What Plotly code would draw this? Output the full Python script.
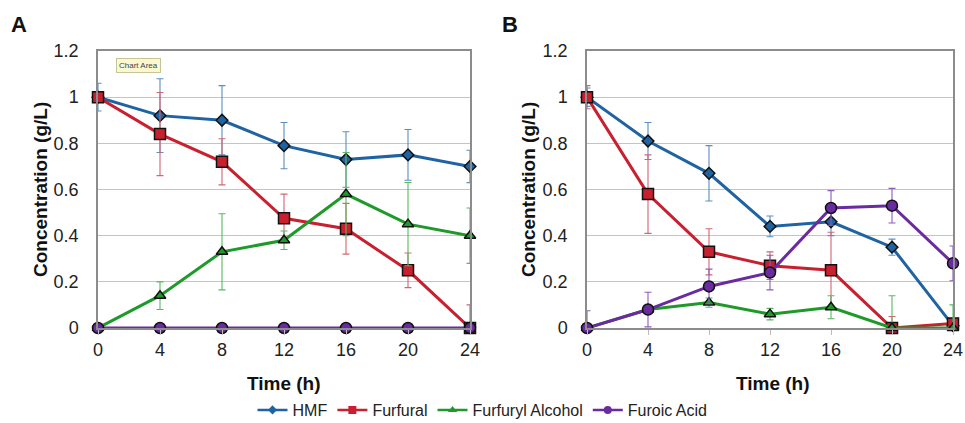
import plotly.graph_objects as go

time_h = [0, 4, 8, 12, 16, 20, 24]
series_names = ["HMF", "Furfural", "Furfuryl Alcohol", "Furoic Acid"]

# Panel A
a_hmf = [1.00, 0.92, 0.90, 0.79, 0.73, 0.75, 0.70]
a_hmf_err = [0.06, 0.16, 0.15, 0.10, 0.12, 0.11, 0.07]
a_furfural = [1.00, 0.84, 0.72, 0.475, 0.43, 0.25, 0.00]
a_furfural_err = [0.02, 0.18, 0.10, 0.105, 0.11, 0.075, 0.10]
a_alcohol = [0.00, 0.14, 0.33, 0.38, 0.58, 0.45, 0.40]
a_alcohol_err = [0.00, 0.06, 0.165, 0.04, 0.18, 0.18, 0.12]
a_acid = [0.00, 0.00, 0.00, 0.00, 0.00, 0.00, 0.00]
a_acid_err = [0, 0, 0, 0, 0, 0, 0]

# Panel B
b_hmf = [1.00, 0.81, 0.67, 0.44, 0.46, 0.35, 0.01]
b_hmf_err = [0.04, 0.08, 0.12, 0.045, 0.06, 0.035, 0.02]
b_furfural = [1.00, 0.58, 0.33, 0.27, 0.25, 0.00, 0.02]
b_furfural_err = [0.05, 0.17, 0.10, 0.06, 0.165, 0.05, 0.02]
b_alcohol = [0.00, 0.08, 0.11, 0.06, 0.09, 0.00, 0.00]
b_alcohol_err = [0.00, 0.01, 0.02, 0.025, 0.05, 0.14, 0.10]
b_acid = [0.00, 0.08, 0.18, 0.24, 0.52, 0.53, 0.28]
b_acid_err = [0.075, 0.075, 0.075, 0.075, 0.075, 0.075, 0.075]

y_tickvals = [0, 0.2, 0.4, 0.6, 0.8, 1.0, 1.2]
y_ticktext = ["0", "0.2", "0.4", "0.6", "0.8", "1", "1.2"]
x_tickvals = time_h

colors = ["#1f63a3", "#c8202f", "#1f9a2a", "#6a2aa0"]
err_colors = ["#5a8fc4", "#d66470", "#5ab862", "#8c5cbc"]
symbols = ["diamond", "square", "triangle-up", "circle"]
sizes = [9, 11, 10, 11]
legend_sizes = [7, 8, 8, 8]

panel_a = [(a_hmf, a_hmf_err), (a_furfural, a_furfural_err), (a_alcohol, a_alcohol_err), (a_acid, a_acid_err)]
panel_b = [(b_hmf, b_hmf_err), (b_furfural, b_furfural_err), (b_alcohol, b_alcohol_err), (b_acid, b_acid_err)]

W, H = 965, 423
fig = go.Figure()

for panel_idx, panel in enumerate([panel_a, panel_b]):
    xa = "x" if panel_idx == 0 else "x2"
    ya = "y" if panel_idx == 0 else "y2"
    for i, (vals, errs) in enumerate(panel):
        fig.add_trace(go.Scatter(
            x=time_h, y=vals, xaxis=xa, yaxis=ya,
            mode="lines+markers", name=series_names[i],
            showlegend=False,
            line=dict(color=colors[i], width=3),
            marker=dict(symbol=symbols[i], size=sizes[i], color=colors[i],
                        line=dict(color="#111111", width=1.5)),
            error_y=dict(type="data", array=errs, visible=True,
                         color=err_colors[i], thickness=1.1, width=3.5),
            cliponaxis=False,
        ))

# legend-only entries with small symbols
for i, name in enumerate(series_names):
    fig.add_trace(go.Scatter(
        x=[None], y=[None], mode="lines+markers", name=name, showlegend=True,
        line=dict(color=colors[i], width=2.5),
        marker=dict(symbol=symbols[i], size=legend_sizes[i], color=colors[i]),
    ))

font_family = "Liberation Sans, Arial, sans-serif"

def px_x(p):
    return p / W

def px_y(p):
    return 1 - p / H

axis_common_x = dict(range=[0, 24], tickvals=x_tickvals, showgrid=False, automargin=False,
                     showline=True, mirror=True, linecolor="#8c8c8c", linewidth=1.5,
                     ticks="outside", ticklen=5, tickcolor="#bbbbbb",
                     ticklabeloverflow="allow",
                     tickfont=dict(size=18, family=font_family, color="#222"),
                     zeroline=False)
axis_common_y = dict(range=[0, 1.2], tickvals=y_tickvals, ticktext=y_ticktext, automargin=False,
                     showgrid=True, gridcolor="#c4c4c4", gridwidth=1.2,
                     showline=True, mirror=True, linecolor="#8c8c8c", linewidth=1.5,
                     ticks="", ticklabelstandoff=14,
                     tickfont=dict(size=18, family=font_family, color="#222"),
                     zeroline=False)

fig.update_layout(
    width=W, height=H,
    margin=dict(l=0, r=0, t=0, b=0, pad=0, autoexpand=False),
    paper_bgcolor="white", plot_bgcolor="white",
    font=dict(family=font_family, color="#222"),
    xaxis=dict(domain=[px_x(98), px_x(470)], anchor="y", **axis_common_x),
    yaxis=dict(domain=[px_y(328), px_y(51)], anchor="x", **axis_common_y),
    xaxis2=dict(domain=[px_x(587), px_x(953)], anchor="y2", **axis_common_x),
    yaxis2=dict(domain=[px_y(328), px_y(51)], anchor="x2", **axis_common_y),
    legend=dict(orientation="h", x=0.5, xanchor="center", y=px_y(410), yanchor="middle",
                font=dict(size=16, family=font_family, color="#222"),
                itemwidth=30, tracegroupgap=0, bgcolor="rgba(0,0,0,0)"),
    showlegend=True,
)

annotations = [
    dict(text="<b>A</b>", x=px_x(19), y=px_y(25), font=dict(size=22)),
    dict(text="<b>B</b>", x=px_x(510), y=px_y(25), font=dict(size=22)),
    dict(text="<b>Concentration (g/L)</b>", x=px_x(40), y=px_y(190), textangle=-90, font=dict(size=19)),
    dict(text="<b>Concentration (g/L)</b>", x=px_x(528), y=px_y(190), textangle=-90, font=dict(size=19)),
    dict(text="<b>Time (h)</b>", x=px_x(284), y=px_y(383), font=dict(size=19)),
    dict(text="<b>Time (h)</b>", x=px_x(773), y=px_y(383), font=dict(size=19)),
    dict(text="Chart Area", x=px_x(138), y=px_y(65), font=dict(size=8, color="#444"),
         bgcolor="#fbf8cf", bordercolor="#c8c49a", borderwidth=1, borderpad=2),
]
for a in annotations:
    a.update(xref="paper", yref="paper", showarrow=False, xanchor="center", yanchor="middle")
    a["font"].setdefault("family", font_family)
    a["font"].setdefault("color", "#111")
fig.update_layout(annotations=annotations)

fig.write_html("out.html", config={"displayModeBar": False},
               post_script="document.body.style.margin='0';document.body.style.overflow='hidden';")
